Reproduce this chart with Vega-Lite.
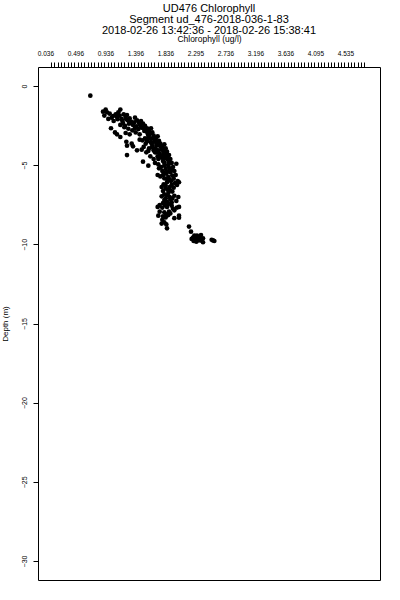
{
  "$schema": "https://vega.github.io/schema/vega-lite/v6.json",
  "autosize": {"type": "none"},
  "padding": {"left": 38, "top": 67, "right": 20, "bottom": 20},
  "width": 342,
  "height": 513,
  "background": "white",
  "title": {
    "text": ["UD476 Chlorophyll", "Segment ud_476-2018-036-1-83", "2018-02-26 13:42:36 - 2018-02-26 15:38:41"],
    "font": "Liberation Sans",
    "fontSize": 11,
    "fontWeight": "normal",
    "lineHeight": 11,
    "color": "black",
    "anchor": "middle",
    "frame": "group",
    "offset": -1
  },
  "data": {
    "values": [
      {"chl": 0.71, "depth": -0.61},
      {"chl": 0.90, "depth": -1.62}, {"chl": 0.94, "depth": -1.49}, {"chl": 0.96, "depth": -1.66}, {"chl": 0.92, "depth": -1.87},
      {"chl": 0.98, "depth": -2.08}, {"chl": 1.03, "depth": -2.00}, {"chl": 1.06, "depth": -2.21}, {"chl": 1.09, "depth": -1.79},
      {"chl": 1.11, "depth": -1.96}, {"chl": 1.13, "depth": -1.66}, {"chl": 1.16, "depth": -1.49}, {"chl": 1.15, "depth": -1.87},
      {"chl": 1.18, "depth": -2.08}, {"chl": 1.21, "depth": -1.79}, {"chl": 1.24, "depth": -1.96}, {"chl": 1.26, "depth": -1.83},
      {"chl": 1.27, "depth": -2.17}, {"chl": 1.20, "depth": -2.34}, {"chl": 1.16, "depth": -2.46}, {"chl": 1.23, "depth": -2.51},
      {"chl": 1.29, "depth": -2.38}, {"chl": 1.32, "depth": -2.25}, {"chl": 1.35, "depth": -2.46}, {"chl": 1.38, "depth": -2.00},
      {"chl": 1.41, "depth": -2.17}, {"chl": 1.44, "depth": -2.34}, {"chl": 1.47, "depth": -2.21}, {"chl": 1.50, "depth": -2.38},
      {"chl": 1.53, "depth": -2.51}, {"chl": 1.48, "depth": -2.63}, {"chl": 1.43, "depth": -2.72}, {"chl": 1.39, "depth": -2.93},
      {"chl": 1.45, "depth": -3.05}, {"chl": 1.52, "depth": -2.84}, {"chl": 1.56, "depth": -2.67}, {"chl": 1.59, "depth": -2.84},
      {"chl": 1.62, "depth": -2.67}, {"chl": 1.64, "depth": -2.93}, {"chl": 1.58, "depth": -3.14}, {"chl": 1.53, "depth": -3.31},
      {"chl": 1.49, "depth": -3.43}, {"chl": 1.61, "depth": -3.31}, {"chl": 1.66, "depth": -3.14}, {"chl": 1.69, "depth": -3.31},
      {"chl": 1.72, "depth": -3.18}, {"chl": 1.74, "depth": -3.47}, {"chl": 1.67, "depth": -3.52}, {"chl": 1.63, "depth": -3.64},
      {"chl": 1.70, "depth": -3.73}, {"chl": 1.76, "depth": -3.64}, {"chl": 1.79, "depth": -3.81}, {"chl": 1.82, "depth": -3.68},
      {"chl": 1.84, "depth": -3.94}, {"chl": 1.78, "depth": -4.02}, {"chl": 1.73, "depth": -4.06}, {"chl": 1.68, "depth": -4.19},
      {"chl": 1.75, "depth": -4.27}, {"chl": 1.81, "depth": -4.19}, {"chl": 1.86, "depth": -4.15}, {"chl": 1.89, "depth": -4.36},
      {"chl": 1.84, "depth": -4.44}, {"chl": 1.78, "depth": -4.53}, {"chl": 1.73, "depth": -4.61}, {"chl": 1.80, "depth": -4.74},
      {"chl": 1.87, "depth": -4.65}, {"chl": 1.91, "depth": -4.61}, {"chl": 1.93, "depth": -4.86}, {"chl": 1.88, "depth": -4.95},
      {"chl": 1.82, "depth": -5.03}, {"chl": 1.77, "depth": -5.12}, {"chl": 1.84, "depth": -5.24}, {"chl": 1.90, "depth": -5.20},
      {"chl": 1.95, "depth": -5.12}, {"chl": 2.00, "depth": -4.91}, {"chl": 1.97, "depth": -5.37}, {"chl": 1.91, "depth": -5.45},
      {"chl": 1.85, "depth": -5.54}, {"chl": 1.80, "depth": -5.62}, {"chl": 1.76, "depth": -5.71}, {"chl": 1.82, "depth": -5.83},
      {"chl": 1.88, "depth": -5.75}, {"chl": 1.94, "depth": -5.66}, {"chl": 1.99, "depth": -5.62}, {"chl": 2.02, "depth": -6.00},
      {"chl": 2.04, "depth": -6.08}, {"chl": 1.98, "depth": -6.13}, {"chl": 1.92, "depth": -6.00}, {"chl": 1.86, "depth": -6.08},
      {"chl": 1.81, "depth": -6.21}, {"chl": 1.78, "depth": -6.38}, {"chl": 1.84, "depth": -6.46}, {"chl": 1.90, "depth": -6.38},
      {"chl": 1.96, "depth": -6.42}, {"chl": 2.01, "depth": -6.25}, {"chl": 1.94, "depth": -6.67}, {"chl": 1.88, "depth": -6.76},
      {"chl": 1.82, "depth": -6.84}, {"chl": 1.78, "depth": -6.97}, {"chl": 1.84, "depth": -7.09}, {"chl": 1.90, "depth": -7.01},
      {"chl": 1.97, "depth": -6.93}, {"chl": 2.03, "depth": -7.01}, {"chl": 2.00, "depth": -7.26}, {"chl": 1.93, "depth": -7.35},
      {"chl": 1.86, "depth": -7.31}, {"chl": 1.80, "depth": -7.39}, {"chl": 1.75, "depth": -7.52}, {"chl": 1.72, "depth": -7.64},
      {"chl": 1.79, "depth": -7.68}, {"chl": 1.86, "depth": -7.64}, {"chl": 1.93, "depth": -7.56}, {"chl": 2.01, "depth": -7.68},
      {"chl": 2.04, "depth": -7.64}, {"chl": 1.97, "depth": -7.85}, {"chl": 1.89, "depth": -7.94}, {"chl": 1.82, "depth": -7.98},
      {"chl": 1.85, "depth": -8.11}, {"chl": 1.80, "depth": -8.23}, {"chl": 1.88, "depth": -8.15}, {"chl": 1.73, "depth": -8.19},
      {"chl": 2.04, "depth": -8.19}, {"chl": 2.04, "depth": -8.32}, {"chl": 1.82, "depth": -8.61}, {"chl": 1.85, "depth": -8.74},
      {"chl": 1.78, "depth": -8.69}, {"chl": 1.86, "depth": -8.99},
      {"chl": 1.77, "depth": -3.85}, {"chl": 1.83, "depth": -4.57}, {"chl": 1.89, "depth": -4.82}, {"chl": 1.79, "depth": -5.37},
      {"chl": 1.86, "depth": -5.87}, {"chl": 1.93, "depth": -6.25}, {"chl": 1.87, "depth": -6.55}, {"chl": 1.80, "depth": -6.63},
      {"chl": 1.91, "depth": -7.18}, {"chl": 1.83, "depth": -7.52}, {"chl": 1.75, "depth": -7.94}, {"chl": 1.64, "depth": -3.89},
      {"chl": 1.72, "depth": -4.44}, {"chl": 1.66, "depth": -4.06},
      {"chl": 1.00, "depth": -1.75}, {"chl": 1.05, "depth": -1.90}, {"chl": 1.12, "depth": -2.10}, {"chl": 1.19, "depth": -2.20},
      {"chl": 1.25, "depth": -2.10}, {"chl": 1.30, "depth": -2.05}, {"chl": 1.33, "depth": -2.35}, {"chl": 1.37, "depth": -2.30},
      {"chl": 1.40, "depth": -2.55}, {"chl": 1.46, "depth": -2.50}, {"chl": 1.51, "depth": -2.65}, {"chl": 1.55, "depth": -2.85},
      {"chl": 1.57, "depth": -3.00}, {"chl": 1.60, "depth": -3.05}, {"chl": 1.65, "depth": -3.30}, {"chl": 1.68, "depth": -3.45},
      {"chl": 1.71, "depth": -3.60}, {"chl": 1.74, "depth": -3.75}, {"chl": 1.79, "depth": -3.95}, {"chl": 1.81, "depth": -4.05},
      {"chl": 1.85, "depth": -4.30}, {"chl": 1.80, "depth": -4.40}, {"chl": 1.76, "depth": -4.45}, {"chl": 1.86, "depth": -4.55},
      {"chl": 1.82, "depth": -4.85}, {"chl": 1.88, "depth": -5.05}, {"chl": 1.93, "depth": -5.30}, {"chl": 1.87, "depth": -5.40},
      {"chl": 1.82, "depth": -5.50}, {"chl": 1.90, "depth": -5.90}, {"chl": 1.96, "depth": -5.85}, {"chl": 1.84, "depth": -6.30},
      {"chl": 1.91, "depth": -6.60}, {"chl": 1.86, "depth": -6.90}, {"chl": 1.94, "depth": -7.10}, {"chl": 1.88, "depth": -7.45},
      {"chl": 1.82, "depth": -7.20}, {"chl": 1.95, "depth": -7.75}, {"chl": 1.91, "depth": -8.05}, {"chl": 1.84, "depth": -8.30},
      {"chl": 1.97, "depth": -8.35}, {"chl": 1.79, "depth": -8.45}, {"chl": 1.38, "depth": -2.65}, {"chl": 1.34, "depth": -2.80},
      {"chl": 1.28, "depth": -2.70}, {"chl": 1.22, "depth": -2.60}, {"chl": 1.57, "depth": -3.35}, {"chl": 1.62, "depth": -3.55},
      {"chl": 1.56, "depth": -3.50}, {"chl": 1.64, "depth": -3.80}, {"chl": 1.58, "depth": -4.10}, {"chl": 1.69, "depth": -3.95},
      {"chl": 1.02, "depth": -2.67}, {"chl": 1.08, "depth": -2.93}, {"chl": 1.11, "depth": -3.05}, {"chl": 1.16, "depth": -3.22},
      {"chl": 1.24, "depth": -2.97}, {"chl": 1.30, "depth": -3.05}, {"chl": 1.25, "depth": -3.52}, {"chl": 1.26, "depth": -3.77},
      {"chl": 1.33, "depth": -3.64}, {"chl": 1.35, "depth": -3.81}, {"chl": 1.41, "depth": -4.06}, {"chl": 1.48, "depth": -4.02},
      {"chl": 1.51, "depth": -3.85}, {"chl": 1.54, "depth": -3.64}, {"chl": 1.45, "depth": -3.39}, {"chl": 1.26, "depth": -4.36},
      {"chl": 1.50, "depth": -4.78}, {"chl": 1.58, "depth": -5.03}, {"chl": 1.61, "depth": -4.44}, {"chl": 1.66, "depth": -4.61},
      {"chl": 1.68, "depth": -4.86}, {"chl": 1.73, "depth": -4.95}, {"chl": 1.74, "depth": -5.20}, {"chl": 1.72, "depth": -5.62},
      {"chl": 1.70, "depth": -4.19}, {"chl": 1.55, "depth": -4.19}, {"chl": 1.59, "depth": -3.94},
      {"chl": 2.19, "depth": -8.88}, {"chl": 2.22, "depth": -9.20}, {"chl": 2.25, "depth": -9.58}, {"chl": 2.28, "depth": -9.71},
      {"chl": 2.31, "depth": -9.45}, {"chl": 2.34, "depth": -9.54}, {"chl": 2.37, "depth": -9.41}, {"chl": 2.40, "depth": -9.62},
      {"chl": 2.36, "depth": -9.75}, {"chl": 2.30, "depth": -9.83}, {"chl": 2.26, "depth": -9.79}, {"chl": 2.40, "depth": -9.87},
      {"chl": 2.34, "depth": -9.66}, {"chl": 2.53, "depth": -9.71}, {"chl": 2.57, "depth": -9.79}, {"chl": 2.23, "depth": -9.66},
      {"chl": 2.29, "depth": -9.55}, {"chl": 2.32, "depth": -9.75}, {"chl": 2.38, "depth": -9.68}, {"chl": 2.27, "depth": -9.45},
      {"chl": 2.55, "depth": -9.75}
    ]
  },
  "mark": {"type": "circle", "size": 22, "color": "black", "opacity": 1},
  "encoding": {
    "x": {
      "field": "chl",
      "type": "quantitative",
      "scale": {"domain": [-0.075, 5.055], "nice": false, "zero": false},
      "axis": {
        "orient": "top",
        "title": "Chlorophyll (ug/l)",
        "titleFont": "Liberation Sans",
        "titleFontSize": 8.5,
        "titleFontWeight": "normal",
        "titleColor": "black",
        "titlePadding": 7,
        "domain": false,
        "grid": false,
        "tickColor": "black",
        "tickSize": 5,
        "tickWidth": 1,
        "values": [0.12, 0.17, 0.22, 0.27, 0.32, 0.37, 0.42, 0.47, 0.52, 0.57, 0.62, 0.67, 0.72, 0.77, 0.82, 0.87, 0.92, 0.97, 1.02, 1.07, 1.12, 1.17, 1.22, 1.27, 1.32, 1.37, 1.42, 1.47, 1.52, 1.57, 1.62, 1.67, 1.72, 1.77, 1.82, 1.87, 1.92, 1.97, 2.02, 2.07, 2.12, 2.17, 2.22, 2.27, 2.32, 2.37, 2.42, 2.47, 2.52, 2.57, 2.62, 2.67, 2.72, 2.77, 2.82, 2.87, 2.92, 2.97, 3.02, 3.07, 3.12, 3.17, 3.22, 3.27, 3.32, 3.37, 3.42, 3.47, 3.52, 3.57, 3.62, 3.67, 3.72, 3.77, 3.82, 3.87, 3.92, 3.97, 4.02, 4.07, 4.12, 4.17, 4.22, 4.27, 4.32, 4.37, 4.42, 4.47, 4.52, 4.57, 4.62, 4.67, 4.72, 4.77, 4.82],
        "labelExpr": "(round((datum.value-0.12)/0.05) % 9 == 0 && round((datum.value-0.12)/0.05) <= 90) ? ['0.036','0.496','0.936','1.396','1.836','2.295','2.736','3.196','3.636','4.095','4.535'][round((datum.value-0.12)/0.05)/9] : ''",
        "labelOverlap": false,
        "labelFlush": false,
        "labelBound": false,
        "labelOffset": -5.6,
        "labelPadding": 5.5,
        "labelFont": "Liberation Sans",
        "labelFontSize": 6.5,
        "labelColor": "black"
      }
    },
    "y": {
      "field": "depth",
      "type": "quantitative",
      "scale": {"domain": [-31.2, 1.2], "nice": false, "zero": false},
      "axis": {
        "orient": "left",
        "title": "Depth (m)",
        "titleFont": "Liberation Sans",
        "titleFontSize": 8,
        "titleFontWeight": "normal",
        "titleColor": "black",
        "titlePadding": 11,
        "domain": false,
        "grid": false,
        "tickColor": "black",
        "tickSize": 5,
        "tickWidth": 1,
        "values": [-30, -25, -20, -15, -10, -5, 0],
        "labelAngle": 270,
        "labelAlign": "center",
        "labelBaseline": "bottom",
        "labelPadding": 6,
        "labelFont": "Liberation Sans",
        "labelFontSize": 7,
        "labelColor": "black"
      }
    }
  },
  "config": {
    "view": {"stroke": "black", "strokeWidth": 1},
    "axis": {"labelFontWeight": "normal"}
  }
}
